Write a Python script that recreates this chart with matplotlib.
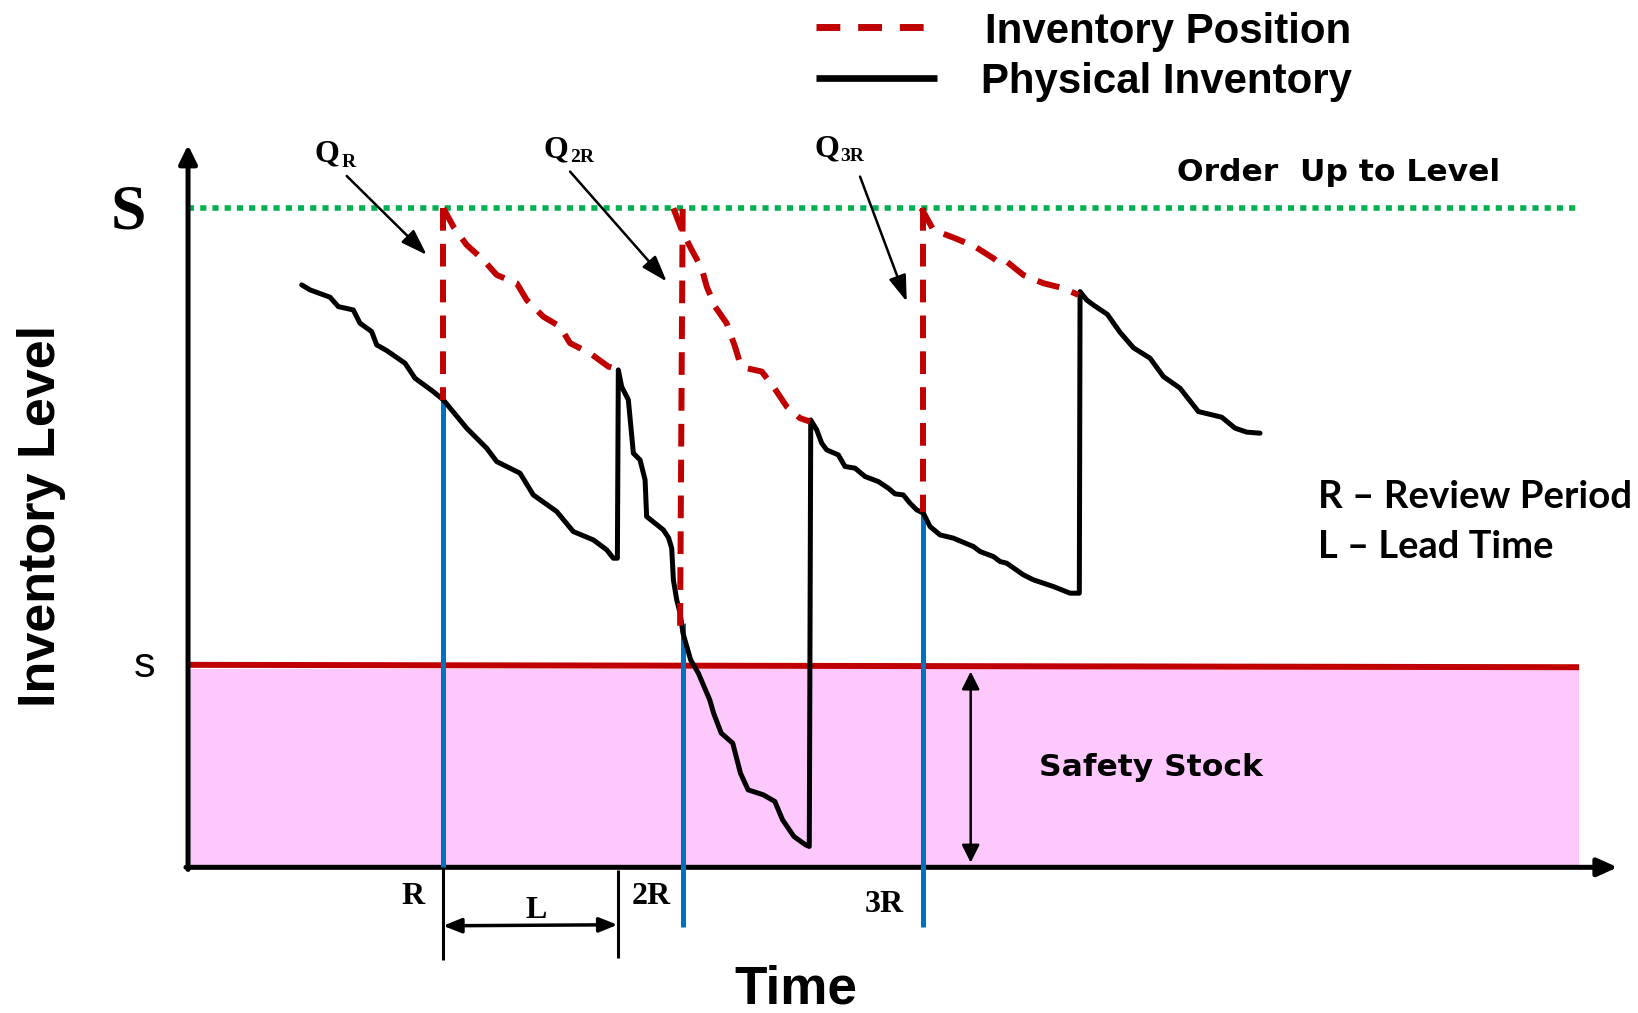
import matplotlib
matplotlib.use("Agg")
import matplotlib.pyplot as plt

# ---------------- data (diagram units: x = time, y = level, screen-like, y grows downward) -------------
phys_x = [288.8, 296.8, 315.9, 323.9, 338.2, 344.6, 355.8, 360.6, 370.2, 387.7,
          397.3, 414.8, 424.4, 446.7, 465.9, 475.5, 497.8, 510.5, 532.9, 548.8,
          568.0, 580.8, 587.1, 591.0, 591.9, 595.1, 601.5, 606.3, 612.7, 617.5,
          619.0, 635.0, 640.0, 643.0, 644.6, 647.8, 651.0, 653.8, 661.1, 668.5,
          679.4, 683.1, 690.4, 701.4, 708.8, 716.1, 730.7, 741.7, 749.1, 760.0,
          771.0, 774.7, 776.1, 781.8, 786.6, 791.4, 802.5, 808.9, 818.5, 828.1,
          840.8, 850.4, 856.8, 864.7, 871.1, 877.5, 883.9, 890.3, 899.9, 912.6,
          931.8, 938.1, 950.9, 957.3, 963.7, 979.6, 989.2, 1008.3, 1024.3, 1033.2,
          1033.9, 1040.2, 1046.6, 1060.0, 1072.0, 1085.0, 1100.9, 1113.7, 1129.6, 1147.2,
          1169.5, 1182.3, 1193.5, 1206.2]
phys_y = [272.8, 277.6, 284.6, 293.6, 296.8, 309.5, 317.5, 330.3, 335.7, 347.8,
          362.2, 375.0, 382.9, 410.0, 429.2, 442.0, 453.1, 473.9, 489.8, 509.0,
          517.0, 526.5, 534.5, 534.5, 354.2, 370.2, 382.9, 434.0, 440.4, 459.5,
          494.6, 507.4, 515.0, 525.0, 555.2, 574.4, 587.1, 606.3, 631.8, 644.6,
          670.1, 682.9, 702.0, 711.6, 740.3, 756.3, 761.1, 767.4, 785.0, 801.0,
          808.9, 810.5, 402.1, 411.6, 424.4, 430.8, 435.6, 446.7, 448.3, 456.3,
          461.1, 467.5, 472.9, 473.9, 481.8, 488.2, 491.4, 504.2, 512.2, 515.3,
          523.3, 528.1, 532.9, 537.7, 539.3, 550.4, 555.2, 561.6, 568.0, 568.0,
          279.2, 287.2, 292.0, 301.0, 318.0, 333.0, 343.0, 360.6, 371.7, 394.1,
          399.5, 410.0, 413.8, 414.8]

# inventory position curves after each review
pos1_x = [424.4, 434.0, 446.7, 462.7, 475.5, 494.6, 504.2, 520.1, 536.1, 545.7, 564.8, 582.3, 587.1]
pos1_y = [199.4, 217.0, 234.5, 248.9, 263.3, 271.2, 287.2, 303.2, 312.7, 328.6, 338.2, 351.0, 352.6]
pos2_x = [644.6, 652.6, 660.5, 671.7, 676.5, 684.5, 695.6, 703.6, 708.4, 714.8, 729.2, 740.3, 753.1, 765.8, 775.4]
pos2_y = [199.4, 220.2, 236.2, 256.9, 274.4, 293.6, 309.5, 331.9, 347.8, 352.6, 355.8, 370.2, 389.3, 400.4, 403.7]
pos3_x = [882.0, 893.5, 914.2, 933.4, 950.9, 957.3, 963.7, 979.6, 998.7, 1017.9, 1032.3]
pos3_y = [199.4, 220.2, 228.1, 236.2, 247.3, 252.1, 250.5, 263.3, 271.2, 276.0, 282.4]

# order quantities at reviews: (x_top, y_top, x_bottom, y_bottom)
order_top_x = [424.4, 653.5, 883.9]
order_top_y = [199.4, 200.0, 199.4]
order_bot_x = [424.4, 651.0, 883.9]
order_bot_y = [382.9, 604.0, 489.8]

# review instants (blue lines)
review_x = [424.4, 654.0, 883.9]
review_top = [382.9, 597.0, 491.4]
review_bot = [830.0, 887.4, 887.4]
review_labels = ["R", "2R", "3R"]
review_label_x = [395.8, 623.0, 846.7]
review_label_y = [866.0, 866.0, 873.0]

q_labels = ["R", "2R", "3R"]
q_text_x = [301.5, 519.8, 780.0]
q_text_y = [155.0, 150.5, 150.0]
q_sub_x = [327.0, 545.7, 804.1]
q_arrow_start = [(331.9, 168.5), (545.7, 164.3), (823.3, 169.1)]
q_arrow_end = [(408.5, 244.1), (638.2, 269.6), (868.0, 288.8)]

order_up_level = 199.4      # S
reorder_level_left = 636.6  # s
reorder_level_right = 638.9
x_origin, y_origin = 180.0, 830.5
x_end = 1511.6

RED = "#C00000"
BLUE = "#0070C0"
GREEN = "#00B050"
PINK = "#FDC9FD"

W, H = 1568.0, 970.0
fig = plt.figure(figsize=(16.38, 10.13), dpi=100)
ax = fig.add_axes([0, 0, 1, 1])
ax.set_xlim(0, W)
ax.set_ylim(H, 0)
ax.axis("off")
fig.patch.set_facecolor("white")

SC = 1638.0 / 1568.0

def fit(x, y, s, target, fs, measure="w", **kw):
    t = ax.text(x, y, s, fontsize=fs, **kw)
    r = fig.canvas.get_renderer()
    bb = t.get_window_extent(r)
    cur = bb.width if measure == "w" else bb.height
    t.set_fontsize(fs * target * SC / cur)
    return t

# safety stock area
ax.fill_between([x_origin, x_end], [640.5, 640.5], [828.0, 828.0], color=PINK, lw=0, zorder=1)
ax.plot([x_origin, x_end], [reorder_level_left, reorder_level_right], color=RED, lw=4.3, solid_capstyle="butt", zorder=2)
ax.plot([x_origin, x_end], [order_up_level, order_up_level], color=GREEN, lw=4.0,
        linestyle=(0, (1.1, 1.1)), dash_capstyle="butt", zorder=2)

# axes with arrows
ax.annotate("", xy=(x_origin, 138.8), xytext=(x_origin, y_origin + 2),
            arrowprops=dict(arrowstyle="-|>,head_length=0.55,head_width=0.27", mutation_scale=20,
                            lw=3.6, color="black", shrinkA=0, shrinkB=0), zorder=3)
ax.annotate("", xy=(1548.5, y_origin), xytext=(x_origin - 2, y_origin),
            arrowprops=dict(arrowstyle="-|>,head_length=0.6,head_width=0.27", mutation_scale=20,
                            lw=3.6, color="black", shrinkA=0, shrinkB=0), zorder=3)

# review lines
for xr, yt, yb in zip(review_x, review_top, review_bot):
    ax.plot([xr, xr], [yt, yb], color=BLUE, lw=3.6, solid_capstyle="butt", zorder=4)

# physical inventory
ax.plot(phys_x, phys_y, color="black", lw=3.6, solid_joinstyle="round", solid_capstyle="round", zorder=5)

# inventory position
dash = (0, (3.8, 2.2))
for xt, yt, xb, yb in zip(order_top_x, order_top_y, order_bot_x, order_bot_y):
    ax.plot([xt, xb], [yt, yb], color=RED, lw=4.3, linestyle=dash, zorder=6)
for px, py in [(pos1_x, pos1_y), (pos2_x, pos2_y), (pos3_x, pos3_y)]:
    ax.plot(px, py, color=RED, lw=4.3, linestyle=dash, dash_joinstyle="round", zorder=6)

# legend
ax.plot([781, 884.4], [25.8, 25.8], color=RED, lw=5.0, linestyle=(0, (3.43, 2.57)), zorder=6)
ax.plot([781, 897], [75, 75], color="black", lw=4.8, solid_capstyle="butt", zorder=6)
fit(943, 41.5, "Inventory Position", 351, 30, family="Liberation Sans", weight="bold", va="baseline")
fit(939, 88.7, "Physical Inventory", 355, 30, family="Liberation Sans", weight="bold", va="baseline")

# Q labels and arrows
for lab, tx, ty, sx, st, en in zip(q_labels, q_text_x, q_text_y, q_sub_x, q_arrow_start, q_arrow_end):
    ax.text(tx, ty, "Q", fontsize=23, family="Liberation Serif", weight="bold", va="baseline")
    ax.text(sx, ty + 4.5, lab, fontsize=14, family="Liberation Serif", weight="bold", va="baseline")
    ax.annotate("", xy=en, xytext=st,
                arrowprops=dict(arrowstyle="-|>,head_length=0.8,head_width=0.27", mutation_scale=20,
                                lw=1.8, color="black", shrinkA=0, shrinkB=0), zorder=7)

# S and s
ax.text(123, 218.6, "S", fontsize=46, family="Liberation Serif", weight="bold", ha="center", va="baseline")
ax.text(138, 648, "s", fontsize=31, family="Liberation Sans", ha="center", va="baseline")

# texts
fit(1126.4, 173, "Order  Up to Level", 309.6, 23, family="DejaVu Sans", weight="bold", va="baseline")
fit(1261.8, 486.6, "R \u2013 Review Period", 300, 26, family="Lato", weight="bold", va="baseline")
fit(1262, 534.5, "L \u2013 Lead Time", 225, 26, family="Lato", weight="bold", va="baseline")
fit(994.4, 743.5, "Safety Stock", 214, 22, family="DejaVu Sans", weight="bold", va="baseline", zorder=7)
fit(703, 960.5, "Time", 117.4, 37, family="Liberation Sans", weight="bold", va="baseline")
ax.text(52.6, 493.8, "Inventory Level", fontsize=37.5, family="Liberation Sans", weight="bold",
        rotation=90, rotation_mode="anchor", ha="center", va="baseline")

# review labels
for lab, lx, ly in zip(review_labels, review_label_x, review_label_y):
    ax.text(lx, ly, lab, fontsize=23, family="Liberation Serif", weight="bold", ha="center", va="baseline")

# lead time bracket
ax.plot([424.1, 424.1], [830, 919], color="black", lw=2.2, solid_capstyle="butt", zorder=3)
ax.plot([591.2, 591.2], [833, 917], color="black", lw=2.2, solid_capstyle="butt", zorder=3)
ax.annotate("", xy=(591.2, 885.5), xytext=(424.1, 886.5),
            arrowprops=dict(arrowstyle="<|-|>,head_length=0.55,head_width=0.22", mutation_scale=20,
                            lw=2.5, color="black", shrinkA=0, shrinkB=0), zorder=7)
ax.text(513.6, 878.8, "L", fontsize=23, family="Liberation Serif", weight="bold", ha="center", va="baseline")

# safety stock arrow
ax.annotate("", xy=(929.2, 826), xytext=(929.2, 643),
            arrowprops=dict(arrowstyle="<|-|>,head_length=0.54,head_width=0.27", mutation_scale=20,
                            lw=1.8, color="black", shrinkA=0, shrinkB=0), zorder=7)

fig.savefig("out.png", dpi=100, facecolor="white")
